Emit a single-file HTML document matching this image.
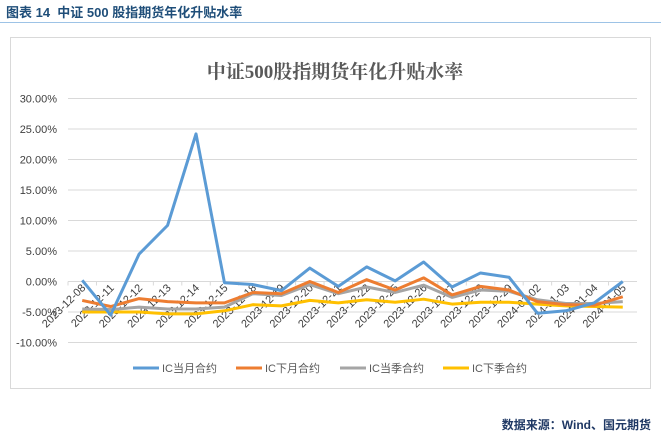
<!DOCTYPE html>
<html><head><meta charset="utf-8"><style>
body{margin:0;width:661px;height:440px;background:#fff;font-family:"Liberation Sans","Noto Sans CJK SC",sans-serif;position:relative;overflow:hidden}
#hdr{position:absolute;left:6px;top:2px;font-size:13px;font-weight:bold;color:#1f4e79}
#hline{position:absolute;left:0;top:22px;width:661px;height:1px;background:#9dc3e6}
#src{position:absolute;right:10px;top:416px;font-size:12px;font-weight:bold;color:#1f3864}
</style></head><body>
<div id="hdr">图表 14&nbsp; 中证 500 股指期货年化升贴水率</div>
<div id="hline"></div>
<svg id="chart" width="661" height="440" style="position:absolute;left:0;top:0"></svg>
<div id="src">数据来源：Wind、国元期货</div>
<script>
const categories=["2023-12-08","2023-12-11","2023-12-12","2023-12-13","2023-12-14","2023-12-15","2023-12-18","2023-12-19","2023-12-20","2023-12-21","2023-12-22","2023-12-25","2023-12-26","2023-12-27","2023-12-28","2023-12-29","2024-01-02","2024-01-03","2024-01-04","2024-01-05"];
const icCur=[0.2,-5.5,4.5,9.2,24.2,-0.2,-0.5,-1.5,2.2,-0.8,2.4,0.1,3.2,-0.9,1.4,0.7,-5.2,-4.8,-3.5,0.0];
const icNext=[-3.1,-4.1,-2.8,-3.3,-3.5,-3.5,-1.8,-2.0,0.0,-1.8,0.3,-1.4,0.6,-2.2,-0.8,-1.4,-3.3,-3.8,-3.9,-2.5];
const icQ=[-4.5,-4.6,-4.2,-4.5,-4.5,-4.2,-2.0,-2.3,-0.5,-2.0,-0.9,-1.8,-0.6,-2.6,-1.4,-1.6,-3.0,-3.6,-3.6,-3.3];
const icNQ=[-5.0,-5.0,-5.0,-5.3,-5.3,-4.8,-3.8,-4.0,-3.1,-3.5,-3.0,-3.4,-2.9,-3.7,-3.4,-3.4,-3.7,-4.0,-4.1,-4.2];
const yTicks=[30,25,20,15,10,5,0,-5,-10];
const seriesNames=["IC当月合约","IC下月合约","IC当季合约","IC下季合约"];
const colors=["#5b9bd5","#ed7d31","#a5a5a5","#ffc000"];
const NS="http://www.w3.org/2000/svg";
const svg=document.getElementById('chart');
function mk(t,a,p){const e=document.createElementNS(NS,t);for(const k in a)e.setAttribute(k,a[k]);(p||svg).appendChild(e);return e;}
const x0=68,x1=637;const step=(x1-x0)/categories.length;
function xs(i){return x0+step*(i+0.5);}
function ys(v){return 281.5-v*6.1;}
let box=mk('rect',{x:10.5,y:37.5,width:640,height:351,fill:'#fff',stroke:'#d9d9d9'});


let tt=mk('text',{x:335,y:78,'text-anchor':'middle','font-size':19,'font-weight':'bold',fill:'#595959','font-family':'"Liberation Serif","Noto Serif CJK SC",serif'});
tt.textContent='中证500股指期货年化升贴水率';


yTicks.forEach(v=>{
 let g=mk('line',{x1:x0,x2:x1,y1:ys(v),y2:ys(v),stroke:'#d9d9d9','stroke-width':1});
 
 
 let t=mk('text',{x:57,y:ys(v)+4,'text-anchor':'end','font-size':11,fill:'#404040'});
 t.textContent=v.toFixed(2)+'%';
 
 
});
categories.forEach((c,i)=>{
 let tk=mk('line',{x1:x0+step*i,x2:x0+step*i,y1:ys(0),y2:ys(0)+4,stroke:'#d9d9d9'});
 
 
 const cx=xs(i)+4,cy=ys(0)+7;
 let t=mk('text',{x:cx,y:cy,'text-anchor':'end','font-size':11,fill:'#404040',transform:`rotate(-45 ${cx} ${cy})`});
 t.textContent=c;
 
 
});
[icCur,icNext,icQ,icNQ].slice().reverse().forEach((s,ri)=>{
 const k=3-ri;
 let p=mk('polyline',{points:s.map((v,i)=>xs(i)+','+ys(v)).join(' '),fill:'none',stroke:colors[k],'stroke-width':3,'stroke-linejoin':'round'});
 
 
});
const lx=[133,236,340,443];
seriesNames.forEach((n,k)=>{
 let l=mk('line',{x1:lx[k],x2:lx[k]+26,y1:368,y2:368,stroke:colors[k],'stroke-width':3});
 
 
 let t=mk('text',{x:lx[k]+29,y:372,'font-size':11,fill:'#595959'});
 t.textContent=n;
 
 
});
</script>
</body></html>
